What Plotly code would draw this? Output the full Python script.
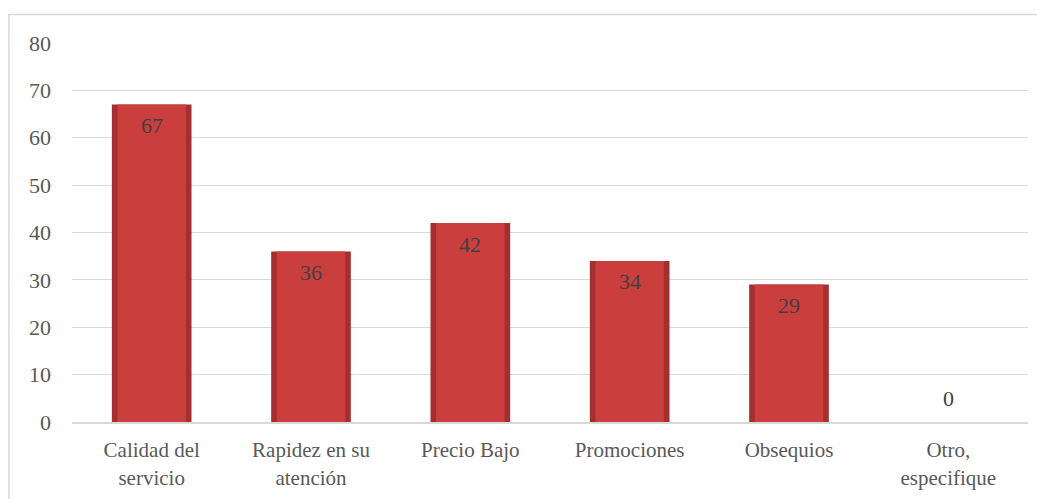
import plotly.graph_objects as go

categories = ["Calidad del<br>servicio", "Rapidez en su<br>atención", "Precio Bajo",
              "Promociones", "Obsequios", "Otro,<br>especifique"]
values = [67, 36, 42, 34, 29, 0]
y_ticks = [0, 10, 20, 30, 40, 50, 60, 70, 80]

font_family = "Liberation Serif"

fig = go.Figure()
# outer (darker edge) bar
fig.add_trace(go.Bar(
    x=categories, y=values, width=0.5,
    marker=dict(color="#A52E2E", line=dict(width=0)),
    hoverinfo="skip", showlegend=False,
))
# inner (lighter face) bar
fig.add_trace(go.Bar(
    x=categories, y=values, width=0.43,
    marker=dict(color="#CA3E3E", line=dict(width=0)),
    showlegend=False,
))

# data labels
for c, v in zip(categories, values):
    fig.add_annotation(x=c, y=v, yshift=(-21 if v > 0 else 24), text=str(v),
                       showarrow=False, yanchor="middle",
                       font=dict(family=font_family, size=22, color="#404040"))

fig.update_layout(
    width=1045, height=499,
    barmode="overlay",
    margin=dict(l=64, r=25, t=35, b=85),
    paper_bgcolor="white", plot_bgcolor="white",
    font=dict(family=font_family, size=21, color="#595959"),
)
fig.update_xaxes(showgrid=False, showline=True, linecolor="#D9D9D9", linewidth=2,
                 ticks="", ticklabelstandoff=8,
                 tickfont=dict(family=font_family, size=21, color="#595959"))
fig.update_yaxes(range=[0, 80], tickvals=y_ticks, showgrid=True, gridcolor="#D9D9D9",
                 gridwidth=1, zeroline=False, showline=False, ticks="",
                 ticklabelstandoff=20, tickfont=dict(family=font_family, size=22, color="#595959"))

# chart border
fig.add_shape(type="rect", xref="paper", yref="paper",
              x0=-0.066, x1=1.0165, y0=-0.3, y1=1.075,
              line=dict(color="#D9D9D9", width=1.5), layer="below")

fig.write_html("out.html")
